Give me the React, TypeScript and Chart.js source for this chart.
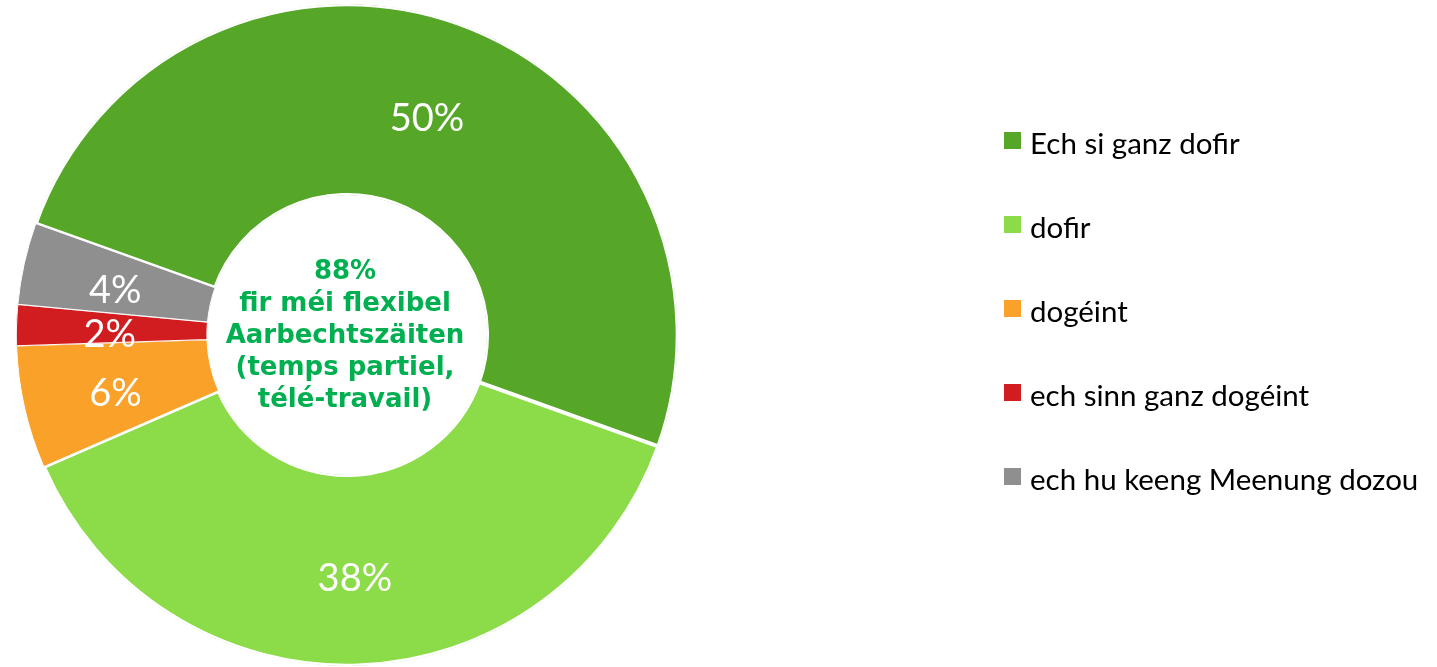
import React, { useEffect, useRef } from "react";
import { Chart, registerables } from "chart.js";

Chart.register(...registerables);

const categories = [
  "Ech si ganz dofir",
  "dofir",
  "dogéint",
  "ech sinn ganz dogéint",
  "ech hu keeng Meenung dozou",
];
const values = [50, 38, 6, 2, 4];
const valueLabels = ["50%", "38%", "6%", "2%", "4%"];
const colors = ["#56A628", "#8CDB48", "#F9A128", "#D21D20", "#8F8F8F"];
const borderWidths = [2, 2, 0.6, 0.6, 0.6];
const centerLines = [
  "88%",
  "fir méi flexibel",
  "Aarbechtszäiten",
  "(temps partiel,",
  "télé-travail)",
];

const W = 1437;
const H = 667;

const sliceLabelPlugin = {
  id: "sliceLabels",
  afterDatasetsDraw(chart: any) {
    const ctx = chart.ctx;
    const meta = chart.getDatasetMeta(0);
    ctx.save();
    ctx.fillStyle = "#FFFFFF";
    ctx.font = "38px Lato";
    ctx.textAlign = "center";
    ctx.textBaseline = "middle";
    meta.data.forEach((arc: any, i: number) => {
      const p = arc.getProps(["x", "y", "startAngle", "endAngle", "innerRadius", "outerRadius"], true);
      const mid = (p.startAngle + p.endAngle) / 2;
      const r = (p.innerRadius + p.outerRadius) / 2 + 2;
      ctx.fillText(valueLabels[i], p.x + Math.cos(mid) * r, p.y + Math.sin(mid) * r + 7);
    });
    ctx.restore();
  },
};

const centerTextPlugin = {
  id: "centerText",
  afterDatasetsDraw(chart: any) {
    const ctx = chart.ctx;
    const meta = chart.getDatasetMeta(0);
    const arc = meta.data[0];
    if (!arc) return;
    const cx = arc.x - 2;
    const cy = arc.y;
    ctx.save();
    ctx.fillStyle = "#00B050";
    ctx.font = "bold 26px 'DejaVu Sans'";
    ctx.textAlign = "center";
    ctx.textBaseline = "middle";
    const lh = 32;
    const n = centerLines.length;
    centerLines.forEach((t, i) => {
      ctx.fillText(t, cx, cy + (i - (n - 1) / 2) * lh + 1);
    });
    ctx.restore();
  },
};

const legendPlugin = {
  id: "customLegend",
  afterDraw(chart: any) {
    const ctx = chart.ctx;
    const x0 = 1004;
    const y0 = 132;
    const step = 84;
    const box = 17;
    ctx.save();
    ctx.font = "29.5px Lato";
    ctx.textAlign = "left";
    ctx.textBaseline = "alphabetic";
    categories.forEach((c, i) => {
      const y = y0 + i * step;
      ctx.fillStyle = colors[i];
      ctx.fillRect(x0, y, box, box);
      ctx.fillStyle = "#000000";
      ctx.fillText(c, x0 + 26, y + 22);
    });
    ctx.restore();
  },
};

export default function App() {
  const ref = useRef<HTMLCanvasElement>(null);
  useEffect(() => {
    if (!ref.current) return;
    const chart = new Chart(ref.current, {
      type: "doughnut",
      data: {
        labels: categories,
        datasets: [
          {
            data: values,
            backgroundColor: colors,
            borderColor: "#FFFFFF",
            borderWidth: borderWidths,
            borderAlign: "inner",
          } as any,
        ],
      },
      options: {
        responsive: false,
        animation: false,
        rotation: -70.3,
        cutout: "42.2%",
        layout: { padding: { left: 16, right: W - 678, top: 4, bottom: 1 } },
        plugins: {
          legend: { display: false },
          tooltip: { enabled: false },
        },
      } as any,
      plugins: [sliceLabelPlugin, centerTextPlugin, legendPlugin],
    });
    return () => chart.destroy();
  }, []);
  return (
    <div style={{ position: "fixed", left: 0, top: 0, width: W, height: H, background: "#FFFFFF" }}>
      <canvas ref={ref} width={W} height={H} style={{ width: W, height: H, display: "block" }} />
    </div>
  );
}
